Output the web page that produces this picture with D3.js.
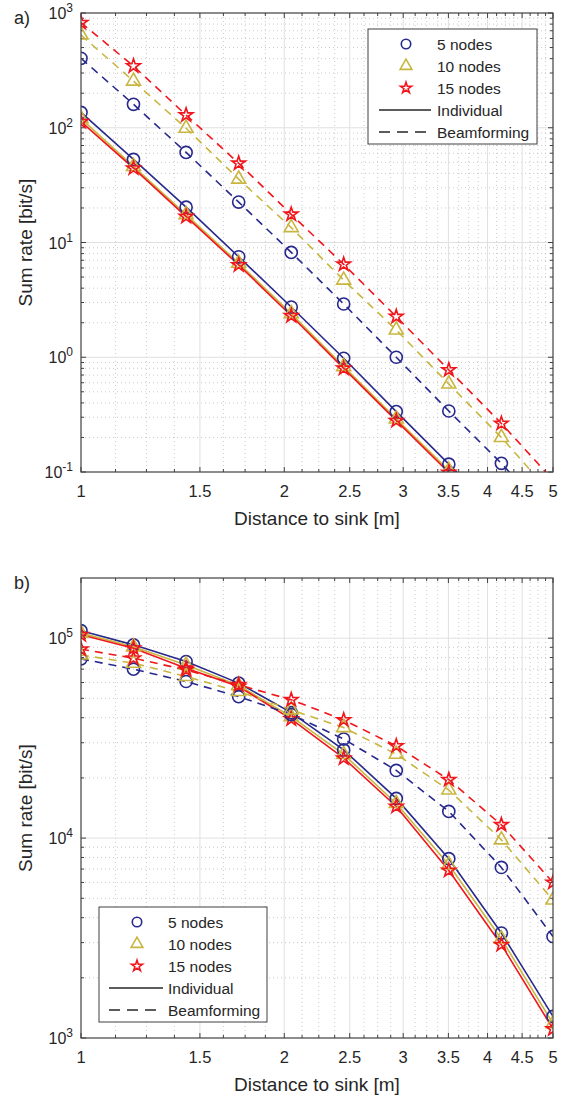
<!DOCTYPE html>
<html><head><meta charset="utf-8">
<script src="https://cdn.jsdelivr.net/npm/d3@7"></script>
<style>body{margin:0;background:#fff}svg{display:block}text{font-family:"Liberation Sans",Arial,Helvetica,sans-serif;fill:#262626}</style>
</head><body>
<svg id="chart" width="569" height="1099"></svg>
<script>
// distances (log-spaced)
const distances = [1, 1.196, 1.431, 1.712, 2.048, 2.449, 2.930, 3.505, 4.193, 5];
const seriesNames = ["5 nodes", "10 nodes", "15 nodes"];
const modeNames = ["Individual", "Beamforming"];
const xTicks = [1, 1.5, 2, 2.5, 3, 3.5, 4, 4.5, 5];

// Panel a
const aInd5  = [136, 53, 20.3, 7.5, 2.74, 0.98, 0.336, 0.117, 0.040, 0.0135];
const aInd10 = [120, 46, 17.5, 6.6, 2.4, 0.83, 0.29, 0.103, 0.035, 0.012];
const aInd15 = [113, 44.4, 16.8, 6.37, 2.3, 0.80, 0.28, 0.099, 0.034, 0.0115];
const aBf5   = [403, 160, 61, 22.5, 8.2, 2.91, 1.0, 0.34, 0.119, 0.038];
const aBf10  = [643, 255, 99, 35.7, 13.5, 4.7, 1.73, 0.585, 0.20, 0.062];
const aBf15  = [824, 345, 129, 49, 17.6, 6.45, 2.26, 0.775, 0.265, 0.085];
const aYTicks = [0.1, 1, 10, 100, 1000];

// Panel b
const bInd5  = [109000, 92600, 76400, 59600, 42400, 27600, 15800, 7890, 3350, 1282];
const bInd10 = [106000, 90500, 73500, 58000, 40500, 26200, 14900, 7350, 3130, 1180];
const bInd15 = [104000, 89100, 70800, 57300, 39400, 25100, 14400, 6890, 2930, 1110];
const bBf5   = [78800, 70000, 60700, 51000, 41500, 31300, 21800, 13600, 7130, 3220];
const bBf10  = [82400, 75000, 64300, 54100, 43800, 35700, 26300, 17400, 9800, 4900];
const bBf15  = [88100, 79400, 69400, 58400, 49200, 39000, 28900, 19600, 11650, 6000];
const bYTicks = [1000, 10000, 100000];

const colors = ["#27298c", "#c8b640", "#f0161c"];
const symbols = ["circle", "triangle", "star"];

const svg = d3.select("#chart");

function markerPath(kind){
  if(kind==="circle") return d3.symbol(d3.symbolCircle, 115)();
  if(kind==="triangle") return d3.symbol(d3.symbolTriangle, 85)();
  return d3.symbol(d3.symbolStar, 58)();
}

let clipId = 0;
function panel(cfg){
  const g = svg.append("g");
  const x = d3.scaleLog().domain([1,5]).range([cfg.left, cfg.right]);
  const y = d3.scaleLog().domain(cfg.yDomain).range([cfg.bottom, cfg.top]);
  const W = cfg.right-cfg.left, H = cfg.bottom-cfg.top;
  const xMinor = d3.range(1, 5.0001, 0.125).filter(v => !xTicks.some(t=>Math.abs(t-v)<1e-6));
  const yMinor = [];
  const lo = Math.floor(Math.log10(cfg.yDomain[0])), hi = Math.ceil(Math.log10(cfg.yDomain[1]));
  for(let e=lo;e<hi;e++) for(let k=2;k<=9;k++){const v=k*Math.pow(10,e); if(v>cfg.yDomain[0]&&v<cfg.yDomain[1]) yMinor.push(v);}
  const grid = g.append("g");
  grid.selectAll(".xm").data(xMinor).join("line").attr("x1",d=>x(d)).attr("x2",d=>x(d)).attr("y1",cfg.top).attr("y2",cfg.bottom)
    .attr("stroke","#c4c4c4").attr("stroke-width",0.9).attr("stroke-dasharray","1,3");
  grid.selectAll(".ym").data(yMinor).join("line").attr("y1",d=>y(d)).attr("y2",d=>y(d)).attr("x1",cfg.left).attr("x2",cfg.right)
    .attr("stroke","#c4c4c4").attr("stroke-width",0.9).attr("stroke-dasharray","1,3");
  grid.selectAll(".xM").data(xTicks.slice(1,-1)).join("line").attr("x1",d=>x(d)).attr("x2",d=>x(d)).attr("y1",cfg.top).attr("y2",cfg.bottom)
    .attr("stroke","#e0e0e0").attr("stroke-width",1);
  grid.selectAll(".yM").data(cfg.yTicks.filter(v=>v>cfg.yDomain[0]&&v<cfg.yDomain[1])).join("line").attr("y1",d=>y(d)).attr("y2",d=>y(d)).attr("x1",cfg.left).attr("x2",cfg.right)
    .attr("stroke","#e0e0e0").attr("stroke-width",1);

  const tk = g.append("g").attr("stroke","#404040").attr("stroke-width",1);
  const allX = xTicks.map(v=>({v,len:5})).concat(xMinor.map(v=>({v,len:3})));
  const allY = cfg.yTicks.map(v=>({v,len:5})).concat(yMinor.map(v=>({v,len:3})));
  allX.forEach(t=>{
    tk.append("line").attr("x1",x(t.v)).attr("x2",x(t.v)).attr("y1",cfg.bottom).attr("y2",cfg.bottom-t.len);
    tk.append("line").attr("x1",x(t.v)).attr("x2",x(t.v)).attr("y1",cfg.top).attr("y2",cfg.top+t.len);
  });
  allY.forEach(t=>{
    tk.append("line").attr("y1",y(t.v)).attr("y2",y(t.v)).attr("x1",cfg.left).attr("x2",cfg.left+t.len);
    tk.append("line").attr("y1",y(t.v)).attr("y2",y(t.v)).attr("x1",cfg.right).attr("x2",cfg.right-t.len);
  });

  const cid = "clip"+(clipId++);
  g.append("clipPath").attr("id",cid).append("rect").attr("x",cfg.left).attr("y",cfg.top).attr("width",W).attr("height",H);
  const dataG = g.append("g").attr("clip-path",`url(#${cid})`);
  const line = d3.line().x((d,i)=>x(distances[i])).y(d=>y(d));
  cfg.series.forEach((s)=>{
    dataG.append("path").datum(s.values).attr("d",line).attr("fill","none")
      .attr("stroke",colors[s.idx]).attr("stroke-width",1.6)
      .attr("stroke-dasharray", s.mode===1 ? "8,6" : null);
  });
  cfg.series.forEach((s)=>{
    dataG.selectAll(null).data(s.values.map((v,i)=>({v,i})).filter(d=>d.v>=cfg.yDomain[0]*0.95)).join("path")
      .attr("d",markerPath(symbols[s.idx]))
      .attr("transform",d=>`translate(${x(distances[d.i])},${y(d.v)})`)
      .attr("fill","none").attr("stroke",colors[s.idx]).attr("stroke-width",1.6);
  });

  g.append("rect").attr("x",cfg.left).attr("y",cfg.top).attr("width",W).attr("height",H)
    .attr("fill","none").attr("stroke","#404040").attr("stroke-width",1.2);

  g.selectAll(".xl").data(xTicks).join("text").attr("x",d=>x(d)).attr("y",cfg.bottom+25)
    .attr("text-anchor","middle").attr("font-size",16.5).text(d=>d3.format("")(d));
  cfg.yTicks.forEach(v=>{
    const e = Math.round(Math.log10(v));
    const t = g.append("text").attr("x",cfg.left-8).attr("y",y(v)+6).attr("text-anchor","end").attr("font-size",16);
    t.append("tspan").text("10");
    t.append("tspan").attr("dy",-7).attr("font-size",12).text(String(e));
  });
  g.append("text").attr("x",(cfg.left+cfg.right)/2).attr("y",cfg.bottom+53).attr("text-anchor","middle").attr("font-size",19).text("Distance to sink [m]");
  g.append("text").attr("transform",`translate(${cfg.left-49},${(cfg.top+cfg.bottom)/2}) rotate(-90)`).attr("text-anchor","middle").attr("font-size",19).text("Sum rate [bit/s]");
  g.append("text").attr("x",14).attr("y",cfg.top+11).attr("font-size",18).text(cfg.tag);

  const L = cfg.legend;
  const lg = g.append("g");
  lg.append("rect").attr("x",L.x).attr("y",L.y).attr("width",L.w).attr("height",L.h).attr("fill","#fff").attr("stroke","#404040").attr("stroke-width",1);
  const rows = seriesNames.map((n,i)=>({label:n, kind:"marker", i})).concat(modeNames.map((n,i)=>({label:n, kind:"line", i})));
  rows.forEach((r,k)=>{
    const cy = L.y + 15 + k*22;
    if(r.kind==="marker"){
      const sz = r.i===0 ? 70 : (r.i===1 ? 60 : 38);
      const sym = [d3.symbolCircle, d3.symbolTriangle, d3.symbolStar][r.i];
      lg.append("path").attr("d",d3.symbol(sym, sz)()).attr("transform",`translate(${L.mx},${cy})`)
        .attr("fill","none").attr("stroke",colors[r.i]).attr("stroke-width",1.6);
    } else {
      lg.append("line").attr("x1",L.lx1).attr("x2",L.lx2).attr("y1",cy).attr("y2",cy).attr("stroke","#262626").attr("stroke-width",1.4)
        .attr("stroke-dasharray", r.i===1 ? "11,7" : null);
    }
    lg.append("text").attr("x",L.tx).attr("y",cy+5.5).attr("font-size",15.5).text(r.label);
  });
}

const mk = (arrs) => arrs.map((v,k)=>({values:v, idx:k%3, mode:Math.floor(k/3)}));

panel({tag:"a)", left:81, right:553, top:13, bottom:472, yDomain:[0.1,1000], yTicks:aYTicks,
  series: mk([aInd5,aInd10,aInd15,aBf5,aBf10,aBf15]),
  legend:{x:368,y:29,w:169,h:115,mx:406,lx1:379,lx2:431,tx:437}});
panel({tag:"b)", left:81, right:553, top:578, bottom:1038, yDomain:[1000,2e5], yTicks:bYTicks,
  series: mk([bInd5,bInd10,bInd15,bBf5,bBf10,bBf15]),
  legend:{x:99,y:907,w:168,h:115,mx:137,lx1:109,lx2:163,tx:168}});
</script>
</body></html>
